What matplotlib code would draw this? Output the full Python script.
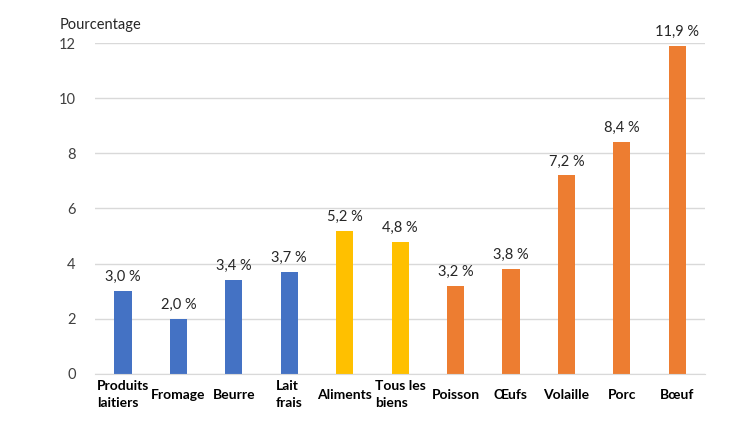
import matplotlib.pyplot as plt

categories = ["Produits\nlaitiers", "Fromage", "Beurre", "Lait\nfrais", "Aliments",
              "Tous les\nbiens", "Poisson", "Œufs", "Volaille", "Porc", "Bœuf"]
values = [3.0, 2.0, 3.4, 3.7, 5.2, 4.8, 3.2, 3.8, 7.2, 8.4, 11.9]
groups = ["lait", "lait", "lait", "lait", "ref", "ref",
          "viande", "viande", "viande", "viande", "viande"]
group_colors = {"lait": "#4472C4", "ref": "#FFC000", "viande": "#ED7D31"}
yticks = [0, 2, 4, 6, 8, 10, 12]

plt.rcParams['font.family'] = ['Lato', 'DejaVu Sans']

fig = plt.figure(figsize=(7.5, 4.22), dpi=100)
ax = fig.add_axes([0.127, 0.114, 0.813, 0.784])

x = list(range(len(categories)))
colors = [group_colors[g] for g in groups]
bars = ax.bar(x, values, width=0.31, color=colors, zorder=3)

for xi, v in zip(x, values):
    label = f"{v:.1f}".replace(".", ",") + " %"
    ax.annotate(label, (xi, v), xytext=(0, 5), textcoords="offset points",
                ha="center", va="bottom", fontsize=10.5, color="#262626")

ax.set_xlim(-0.5, len(categories) - 0.5)
ax.set_ylim(0, 12)
ax.set_yticks(yticks)
ax.set_yticklabels([str(t) for t in yticks], fontsize=10.5, color="#404040")
ax.set_xticks(x)
# libellés centrés verticalement comme dans Excel
ax.set_xticklabels(categories, fontsize=10, fontweight="bold", color="black",
                   multialignment="left", va="center", linespacing=1.45)
ax.tick_params(axis="both", length=0)
ax.tick_params(axis="y", pad=14)
ax.tick_params(axis="x", pad=15)

ax.grid(axis="y", color="#D9D9D9", linewidth=1, zorder=0)
for s in ["top", "right", "left"]:
    ax.spines[s].set_visible(False)
ax.spines["bottom"].set_color("#D9D9D9")
ax.spines["bottom"].set_zorder(4)

fig.text(0.08, 0.94, "Pourcentage", fontsize=10.5, color="#262626", ha="left", va="center")

fig.savefig("out.png", dpi=100)
